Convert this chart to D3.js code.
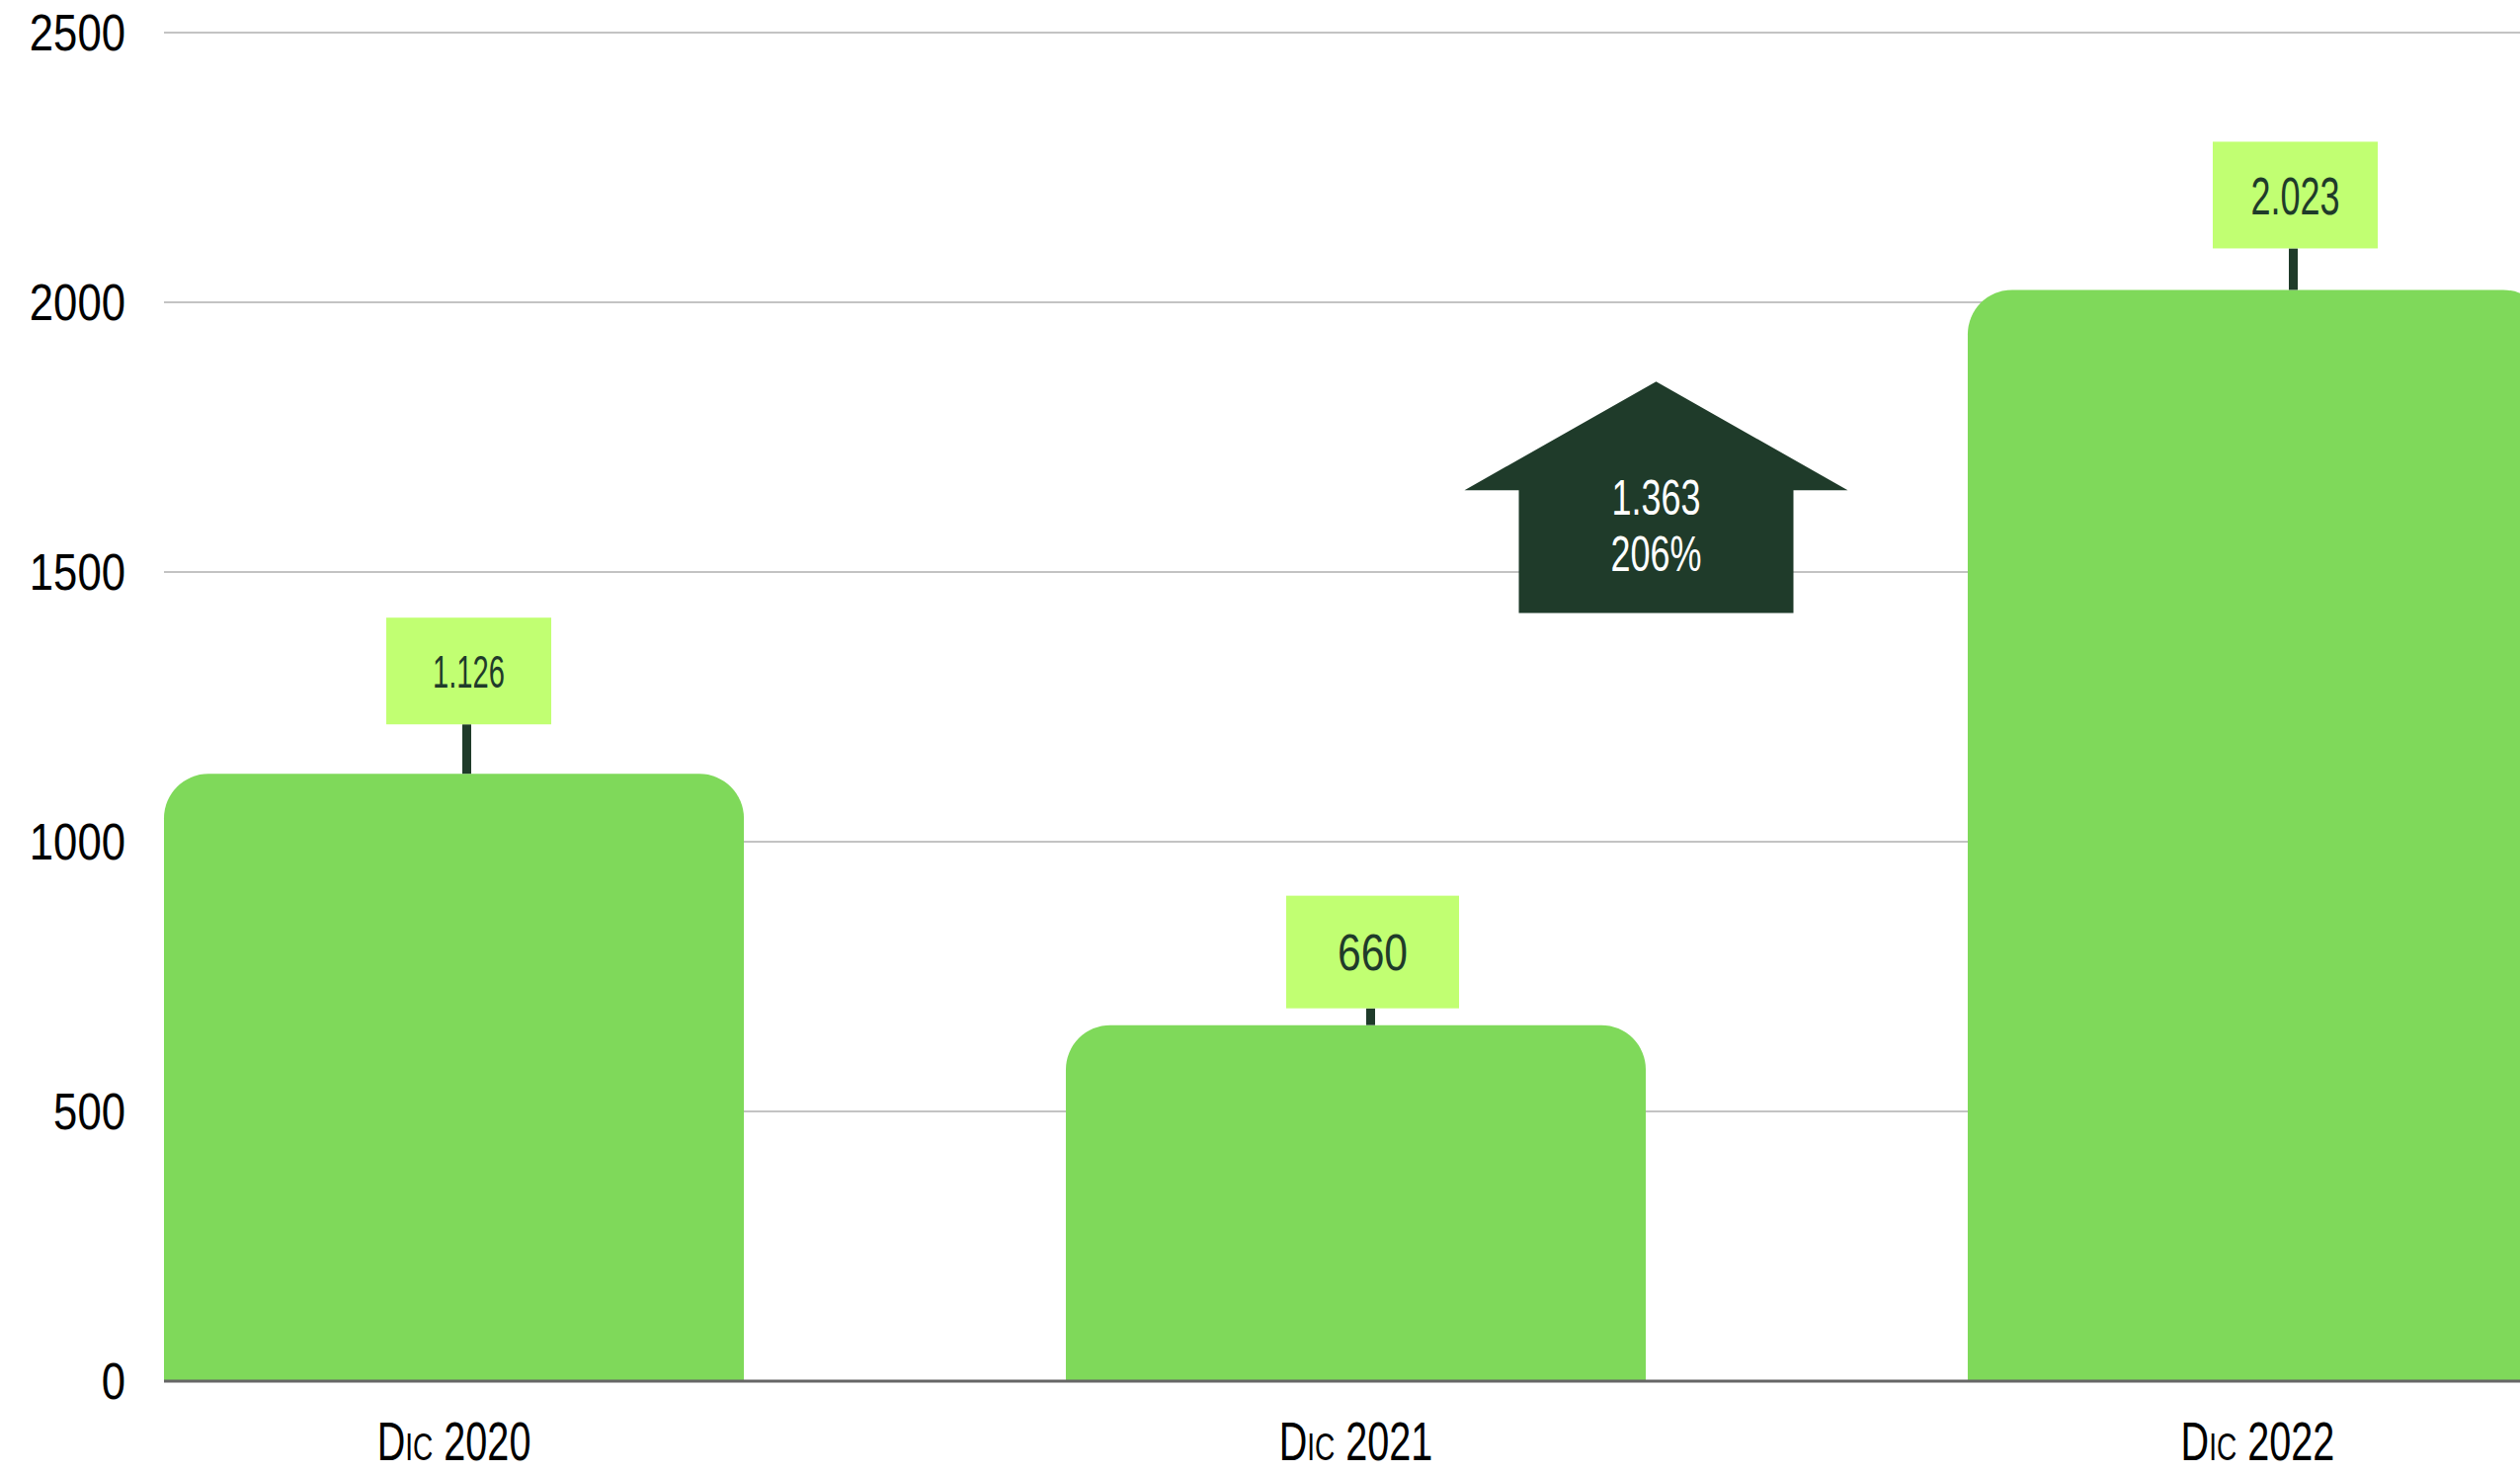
<!DOCTYPE html>
<html>
<head>
<meta charset="utf-8">
<script src="https://cdn.jsdelivr.net/npm/d3@7"></script>
<style>
  html, body { margin: 0; padding: 0; background: #ffffff; overflow: hidden; }
  svg { display: block; }
  text { font-family: "Liberation Sans", Arial, sans-serif; }
</style>
</head>
<body>
<svg id="chart" width="2551" height="1491"></svg>
<script>
// ---- data ----
const categories = ["Dic 2020", "Dic 2021", "Dic 2022"];
const values = [1126, 660, 2023];
const yTicks = [0, 500, 1000, 1500, 2000, 2500];
const changeValue = 1363;
const changePct = 206;
// arrow extent in value units
const arrowRange = [1424, 1853];

// ---- layout ----
const W = 2551, H = 1491;
const left = 166, plotRight = 2579;
const labelDx = [15, 17, 38];
const labelGap = [50, 17, 42];
const boxW = [167, 175, 167];
const boxH = [108, 114, 108];
const labelFont = [47, 52, 53];
const labelSx = [0.62, 0.82, 0.68];

const darkGreen = "#1f3b2a";
const barGreen = "#7fd95a";
const boxGreen = "#c1ff72";

const svg = d3.select("#chart");
const locale = d3.formatLocale({ decimal: ",", thousands: ".", grouping: [3], currency: ["", ""] });
const fmt = locale.format(",d");

function sText(parent, tx, ty, sx, str, size, fill, anchor) {
  const g = parent.append("g").attr("transform", `translate(${tx},${ty})`);
  return g.append("text")
    .attr("transform", `scale(${sx},1)`)
    .attr("text-anchor", anchor)
    .attr("font-size", size)
    .attr("fill", fill)
    .text(str);
}

const x = d3.scaleBand().domain(categories).range([left, plotRight]).paddingInner(0.357).paddingOuter(0);
const y = d3.scaleLinear().domain([0, 2500]).range([1398, 33]);

// gridlines
svg.append("g").selectAll("line").data(yTicks.filter(d => d > 0)).join("line")
  .attr("x1", left).attr("x2", W)
  .attr("y1", d => y(d)).attr("y2", d => y(d))
  .attr("stroke", "#c3c3c3").attr("stroke-width", 2);

// y axis labels
const yl = svg.append("g");
yTicks.forEach(t => sText(yl, 127, y(t) + 18, 0.84, t, 52, "#000", "end"));

// bars with rounded top corners
const r = 45;
svg.append("g").selectAll("path").data(values).join("path")
  .attr("fill", barGreen)
  .attr("d", (v, i) => {
    const x0 = x(categories[i]), x1 = x0 + x.bandwidth();
    const y0 = y(0), y1 = y(v);
    const p = d3.path();
    p.moveTo(x0, y0);
    p.lineTo(x0, y1 + r);
    p.arcTo(x0, y1, x0 + r, y1, r);
    p.lineTo(x1 - r, y1);
    p.arcTo(x1, y1, x1, y1 + r, r);
    p.lineTo(x1, y0);
    p.closePath();
    return p.toString();
  });

// baseline
svg.append("line")
  .attr("x1", left).attr("x2", W)
  .attr("y1", y(0)).attr("y2", y(0))
  .attr("stroke", "#666666").attr("stroke-width", 3);

// x labels
const xl = svg.append("g");
categories.forEach(c => {
  sText(xl, x(c) + x.bandwidth() / 2, 1478, 0.72, c, 55, "#000", "middle")
    .style("font-variant", "small-caps");
});

// value labels with stems
const lab = svg.append("g");
values.forEach((v, i) => {
  const cx = x(categories[i]) + x.bandwidth() / 2 + labelDx[i];
  const barTop = y(v);
  const boxBottom = barTop - labelGap[i];
  lab.append("line")
    .attr("x1", cx - 2).attr("x2", cx - 2)
    .attr("y1", boxBottom).attr("y2", barTop)
    .attr("stroke", darkGreen).attr("stroke-width", 9);
  lab.append("rect")
    .attr("x", cx - boxW[i] / 2).attr("y", boxBottom - boxH[i])
    .attr("width", boxW[i]).attr("height", boxH[i])
    .attr("fill", boxGreen);
  sText(lab, cx, boxBottom - boxH[i] / 2 + labelFont[i] * 0.36, labelSx[i], fmt(v), labelFont[i], darkGreen, "middle");
});

// change arrow
const ax = x(categories[1]) + x.bandwidth() / 2 + 304;
const aTop = y(arrowRange[1]), aBot = y(arrowRange[0]);
const shoulder = aTop + 110;
const halfHead = 194, halfBody = 139;
svg.append("path")
  .attr("fill", darkGreen)
  .attr("d", d3.line()([
    [ax, aTop], [ax + halfHead, shoulder], [ax + halfBody, shoulder], [ax + halfBody, aBot],
    [ax - halfBody, aBot], [ax - halfBody, shoulder], [ax - halfHead, shoulder]
  ]) + "Z");
const at = svg.append("g");
sText(at, ax, 521, 0.72, fmt(changeValue), 50, "#ffffff", "middle");
sText(at, ax, 578, 0.72, changePct + "%", 50, "#ffffff", "middle");
</script>
</body>
</html>
